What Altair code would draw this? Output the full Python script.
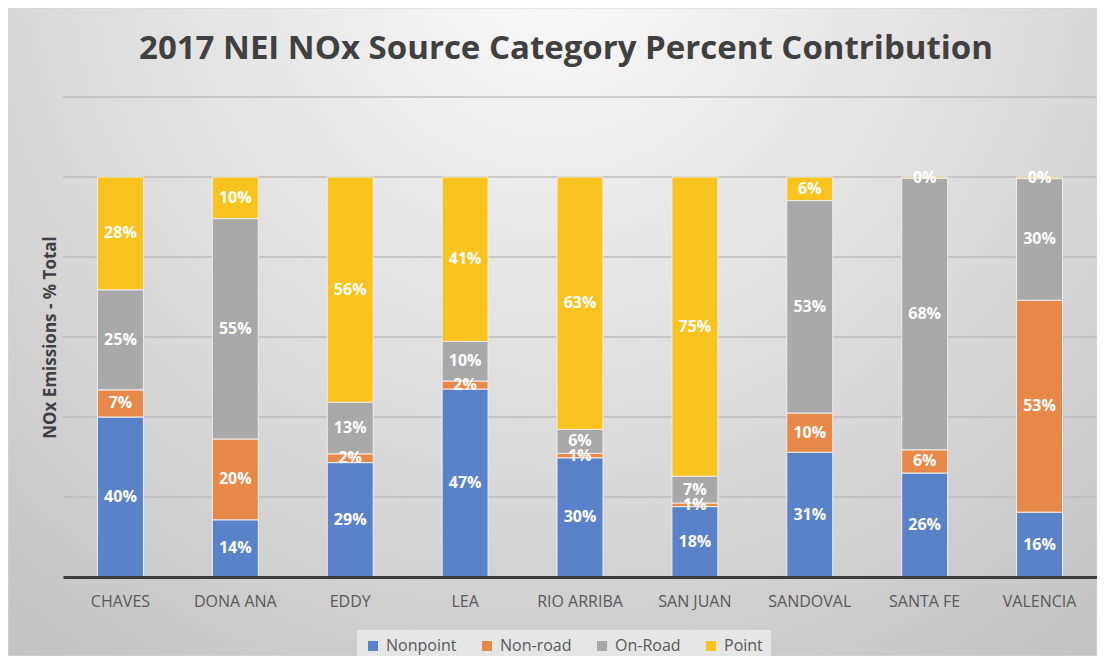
import altair as alt
import pandas as pd

# ---- data ----
counties = ["CHAVES", "DONA ANA", "EDDY", "LEA", "RIO ARRIBA",
            "SAN JUAN", "SANDOVAL", "SANTA FE", "VALENCIA"]
categories = ["Nonpoint", "Non-road", "On-Road", "Point"]
nonpoint = [40.0, 14.3, 28.6, 47.0, 29.8, 17.6, 31.2, 26.0, 16.2]
nonroad = [6.8, 20.2, 2.2, 2.0, 1.1, 0.9, 9.8, 5.8, 53.0]
onroad = [25.0, 55.1, 12.9, 9.9, 6.0, 6.7, 53.1, 67.9, 30.4]
point = [28.2, 10.4, 56.3, 41.1, 63.1, 74.8, 5.9, 0.3, 0.4]
grid_values = [0.2, 0.4, 0.6, 0.8, 1.0, 1.2]
colors = ["#5a82c8", "#e8894a", "#a9a9a9", "#f9c41f"]

rows = []
for i, c in enumerate(counties):
    for k, (cat, series) in enumerate(zip(categories, [nonpoint, nonroad, onroad, point])):
        rows.append({"county": c, "category": cat, "order": k, "v": series[i] / 100.0})
df = pd.DataFrame(rows)

W, H = 1034, 480
PL, PT, PR, PB = 55, 89, 0, 79
FONT = "Open Sans"

y_scale = alt.Scale(domain=[0, 1.2], nice=False, zero=True)
y_axis = alt.Axis(title="NOx Emissions - % Total", titleFont=FONT,
                  titleFontSize=17, titleFontWeight="bold",
                  titleColor="#404040", titlePadding=4,
                  labels=False, ticks=False, domain=False, grid=False,
                  zindex=1)
x_axis = alt.Axis(title=None, labelAngle=0, labelFont=FONT, labelFontSize=16,
                  labelColor="#595959", ticks=False, tickSize=0, labelPadding=16,
                  domainColor="#3c3c3c", domainWidth=3, grid=False, zindex=1)
x_scale = alt.Scale(paddingInner=0.6, paddingOuter=0.3)

background = alt.Chart(alt.Data(values=[{"k": 1}])).mark_rect(
    color={
        "gradient": "radial",
        "x1": 0.5, "y1": 0.15, "r1": 0.0,
        "x2": 0.5, "y2": 0.15, "r2": 0.8,
        "stops": [
            {"offset": 0.0, "color": "#fbfbfb"},
            {"offset": 1.0, "color": "#c4c4c4"},
        ],
    },
    stroke="#d6d6d6", strokeWidth=1,
).encode(
    x=alt.value(-PL), x2=alt.value(W + PR),
    y=alt.value(-PT), y2=alt.value(H + PB),
)

grid = alt.Chart(pd.DataFrame({"g": grid_values})).mark_rule(
    color="#bcbcbc", strokeWidth=1.3
).encode(y=alt.Y("g:Q", scale=y_scale, axis=y_axis))

stacked = alt.Chart(df).transform_stack(
    stack="v", groupby=["county"], as_=["y0", "y1"],
    sort=[alt.SortField("order", order="ascending")],
).transform_calculate(mid="(datum.y0 + datum.y1) / 2")

bars = stacked.mark_bar(stroke="#eeeeee", strokeWidth=1).encode(
    x=alt.X("county:N", sort=counties, scale=x_scale, axis=x_axis),
    y=alt.Y("y0:Q", scale=y_scale, axis=y_axis),
    y2="y1:Q",
    color=alt.Color(
        "category:N",
        scale=alt.Scale(domain=categories, range=colors),
        legend=alt.Legend(
            title=None, orient="none", legendX=294, legendY=533,
            direction="horizontal", symbolType="square", symbolSize=100,
            symbolStrokeWidth=0, labelFont=FONT, labelFontSize=16,
            labelColor="#595959", labelOffset=5, columnPadding=22,
            padding=8, fillColor="#e6e6e6", zindex=1,
        ),
    ),
)

labels = stacked.mark_text(
    color="white", font=FONT, fontWeight="bold", fontSize=16, baseline="middle"
).encode(
    x=alt.X("county:N", sort=counties, scale=x_scale, axis=x_axis),
    y=alt.Y("mid:Q", scale=y_scale, axis=y_axis),
    text=alt.Text("v:Q", format=".0%"),
)

chart = alt.layer(background, grid, bars, labels).properties(
    width=W, height=H,
    padding={"left": PL, "top": PT, "right": PR, "bottom": PB},
    autosize=alt.AutoSizeParams(type="none"),
    title=alt.TitleParams(
        text="2017 NEI NOx Source Category Percent Contribution",
        font=FONT, fontSize=33, fontWeight="bold", color="#404040",
        anchor="middle", dx=-14, offset=-84, baseline="alphabetic", zindex=1,
    ),
).configure_view(stroke=None).configure_axis(zindex=1)

chart.save("out.html", embed_options={"renderer": "svg", "actions": False})
